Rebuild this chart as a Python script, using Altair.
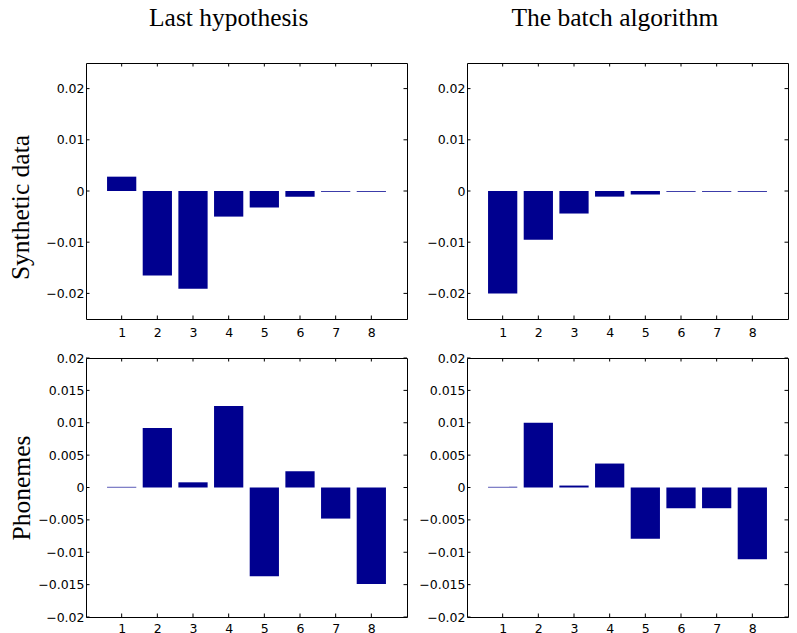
import altair as alt
import pandas as pd

# ---- data ----
components = [1, 2, 3, 4, 5, 6, 7, 8]
synthetic_last = [0.0028, -0.0165, -0.0191, -0.0050, -0.0032, -0.0011, -0.00015, -0.00015]
synthetic_batch = [-0.0200, -0.0095, -0.0044, -0.0011, -0.0007, -0.00015, -0.00015, -0.00015]
phonemes_last = [0.0001, 0.0092, 0.0008, 0.0126, -0.0137, 0.0025, -0.0048, -0.0149]
phonemes_batch = [0.0001, 0.0100, 0.0003, 0.0037, -0.0079, -0.0032, -0.0032, -0.0111]

col_titles = ["Last hypothesis", "The batch algorithm"]
row_titles = ["Synthetic data", "Phonemes"]
synthetic_yticks = [-0.02, -0.01, 0, 0.01, 0.02]
phonemes_yticks = [-0.02, -0.015, -0.01, -0.005, 0, 0.005, 0.01, 0.015, 0.02]
synthetic_ydomain = [-0.025, 0.025]
phonemes_ydomain = [-0.02, 0.02]
xdomain = [0, 9]

BAR = "#00008F"
W = 321
TICK = 3.5
SERIF = "Liberation Serif"
SERIF_SIZE = 25.5


def panel(values, ydomain, yticks, h, xpad, title=None, title_dx=-18, ylabel=None,
          title_pad=10, ylabel_y=None):
    df = pd.DataFrame({"c": components, "v": values})
    df["lo"] = df["c"] - 0.41
    df["hi"] = df["c"] + 0.41
    df["base"] = 0.0
    xs = alt.Scale(domain=xdomain, zero=False, nice=False)
    ys = alt.Scale(domain=ydomain, zero=False, nice=False)
    yax = dict(values=yticks, format=".3~f", labelPadding=2, labelOverlap=False, labelFlush=False)
    xax = dict(values=components, format="d", title=None, labelPadding=xpad,
               labelFlush=False, labelOverlap=False)
    if ylabel:
        yax.update(title=ylabel, titlePadding=title_pad, titleFont=SERIF, titleFontSize=SERIF_SIZE,
                   titleFontWeight="normal", titleColor="black")
        if ylabel_y is not None:
            yax.update(titleY=ylabel_y)
    else:
        yax.update(title=None)
    bars = alt.Chart(df).mark_bar(color=BAR).encode(
        x=alt.X("lo:Q", scale=xs, axis=alt.Axis(**xax)),
        x2="hi:Q",
        y=alt.Y("v:Q", scale=ys, axis=alt.Axis(**yax)),
        y2="base:Q",
    )
    ytdf = pd.DataFrame({"t": yticks})
    xtdf = pd.DataFrame({"t": components})
    rule = dict(color="black", strokeWidth=1)
    yl = alt.Chart(ytdf).mark_rule(**rule).encode(
        y=alt.Y("t:Q", scale=ys, axis=None), x=alt.value(0), x2=alt.value(TICK))
    yr = alt.Chart(ytdf).mark_rule(**rule).encode(
        y=alt.Y("t:Q", scale=ys, axis=None), x=alt.value(W - TICK), x2=alt.value(W))
    xb = alt.Chart(xtdf).mark_rule(**rule).encode(
        x=alt.X("t:Q", scale=xs, axis=None), y=alt.value(h - TICK), y2=alt.value(h))
    xt = alt.Chart(xtdf).mark_rule(**rule).encode(
        x=alt.X("t:Q", scale=xs, axis=None), y=alt.value(0), y2=alt.value(TICK))
    layer = alt.layer(bars, yl, yr, xb, xt).properties(width=W, height=h).resolve_axis(
        x="independent", y="independent")
    if title:
        layer = layer.properties(title=alt.Title(title, font=SERIF, fontSize=SERIF_SIZE,
                                                 fontWeight="normal", color="black",
                                                 anchor="middle", frame="group",
                                                 dx=title_dx, offset=11, baseline="alphabetic"))
    return layer


p11 = panel(synthetic_last, synthetic_ydomain, synthetic_yticks, 256, 7, title=col_titles[0],
            title_dx=-17.8, ylabel=row_titles[0], title_pad=12, ylabel_y=144)
p12 = panel(synthetic_batch, synthetic_ydomain, synthetic_yticks, 256, 7, title=col_titles[1],
            title_dx=-12.6)
p21 = panel(phonemes_last, phonemes_ydomain, phonemes_yticks, 259, 5.5, ylabel=row_titles[1],
            title_pad=3)
p22 = panel(phonemes_batch, phonemes_ydomain, phonemes_yticks, 259, 5.5)

row1 = alt.hconcat(p11, p12, spacing=18)
row2 = alt.hconcat(p21, p22, spacing=10)
chart = alt.vconcat(row1, row2, spacing=12).properties(
    padding={"top": -3, "left": 0, "right": 0, "bottom": -2}
).configure_view(
    stroke="black", strokeWidth=1
).configure_axis(
    grid=False, domain=False, ticks=False, labelFont="DejaVu Sans", labelFontSize=12.5,
    labelColor="black"
)

chart.save("out.html", embed_options={"renderer": "svg", "actions": False})
